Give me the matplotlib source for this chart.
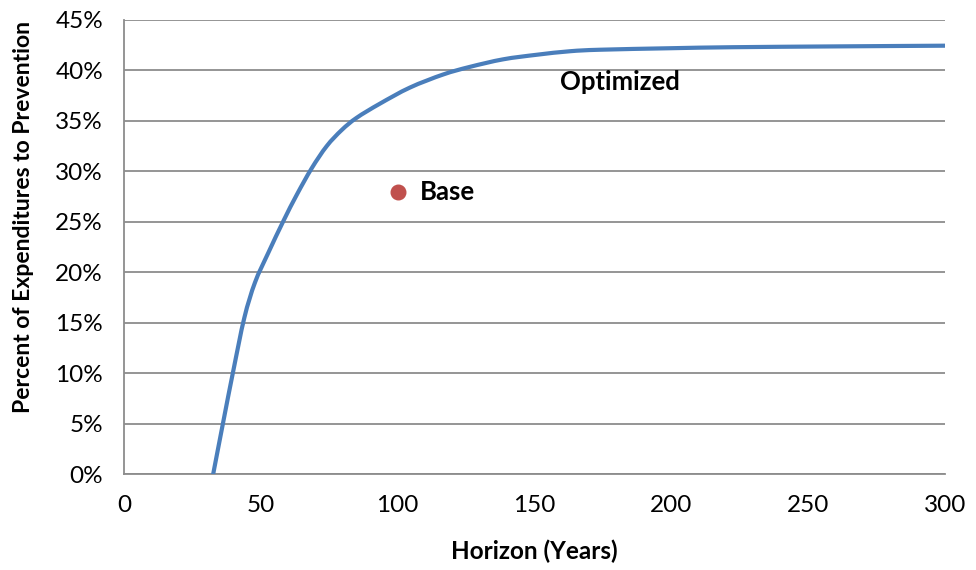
import numpy as np
import matplotlib.pyplot as plt
from matplotlib.path import Path
from matplotlib.patches import PathPatch
from matplotlib.ticker import FuncFormatter

# optimized share of spending on prevention vs. planning horizon
horizon = [32.6, 36.3, 40.0, 44.0, 47.9, 52.7, 58.3, 63.2, 68.6, 74.1,
           79.6, 85.0, 93.5, 104.5, 116.7, 126.4, 138.6, 150.8, 163.0,
           174.0, 200.0, 222.5, 260.0, 300.0]
prevention = [0.0, 5.2, 10.3, 15.5, 19.0, 21.9, 25.1, 27.7, 30.3, 32.5,
              34.1, 35.3, 36.7, 38.3, 39.6, 40.35, 41.1, 41.55, 41.9,
              42.05, 42.2, 42.3, 42.38, 42.45]

base_horizon = [100]
base_prevention = [28.0]


def smooth_path(x, y):
    # catmull-rom style smoothed line through the points
    pts = np.column_stack([x, y])
    verts = [pts[0]]
    codes = [Path.MOVETO]
    n = len(pts)
    for i in range(n - 1):
        p0 = pts[max(i - 1, 0)]
        p1 = pts[i]
        p2 = pts[i + 1]
        p3 = pts[min(i + 2, n - 1)]
        c1 = p1 + (p2 - p0) / 6.0
        c2 = p2 - (p3 - p1) / 6.0
        verts += [c1, c2, p2]
        codes += [Path.CURVE4] * 3
    return Path(verts, codes)


plt.rcParams['font.family'] = ['Lato', 'DejaVu Sans']

fig = plt.figure(figsize=(9.76, 5.70), dpi=100)
ax = fig.add_axes([0.127, 0.168, 0.841, 0.797])

line = PathPatch(smooth_path(horizon, prevention), facecolor='none',
                 edgecolor='#4a7ebb', linewidth=3.0, capstyle='round',
                 joinstyle='round', zorder=3)
ax.add_patch(line)
ax.plot(base_horizon, base_prevention, 'o', color='#c0504d',
        markersize=10.5, zorder=4)

ax.text(108.0, base_prevention[0], 'Base', fontsize=18.5,
        fontweight='bold', va='center', ha='left')
ax.text(159.3, 38.9, 'Optimized', fontsize=18.5, fontweight='bold',
        va='center', ha='left')

ax.set_xlim(0, 300)
ax.set_ylim(0, 45)
ax.set_xticks(range(0, 301, 50))
ax.set_yticks(range(0, 46, 5))
ax.yaxis.set_major_formatter(FuncFormatter(lambda v, p: f'{v:.0f}%'))
ax.tick_params(axis='both', labelsize=17.5, length=0)
ax.tick_params(axis='y', pad=15)
ax.tick_params(axis='x', pad=15)

ax.grid(axis='y', color='#8c8c8c', linewidth=1.3)
ax.set_axisbelow(True)
for side in ['top', 'right']:
    ax.spines[side].set_visible(False)
for side in ['left', 'bottom']:
    ax.spines[side].set_color('#8c8c8c')
    ax.spines[side].set_linewidth(1.3)

ax.set_xlabel('Horizon (Years)', fontsize=17.5, fontweight='bold')
ax.xaxis.set_label_coords(0.5, -0.143)
ax.set_ylabel('Percent of Expenditures to Prevention', fontsize=16.5,
              fontweight='bold')
ax.yaxis.set_label_coords(-0.11, 0.566)

fig.savefig('out.png', dpi=100)
